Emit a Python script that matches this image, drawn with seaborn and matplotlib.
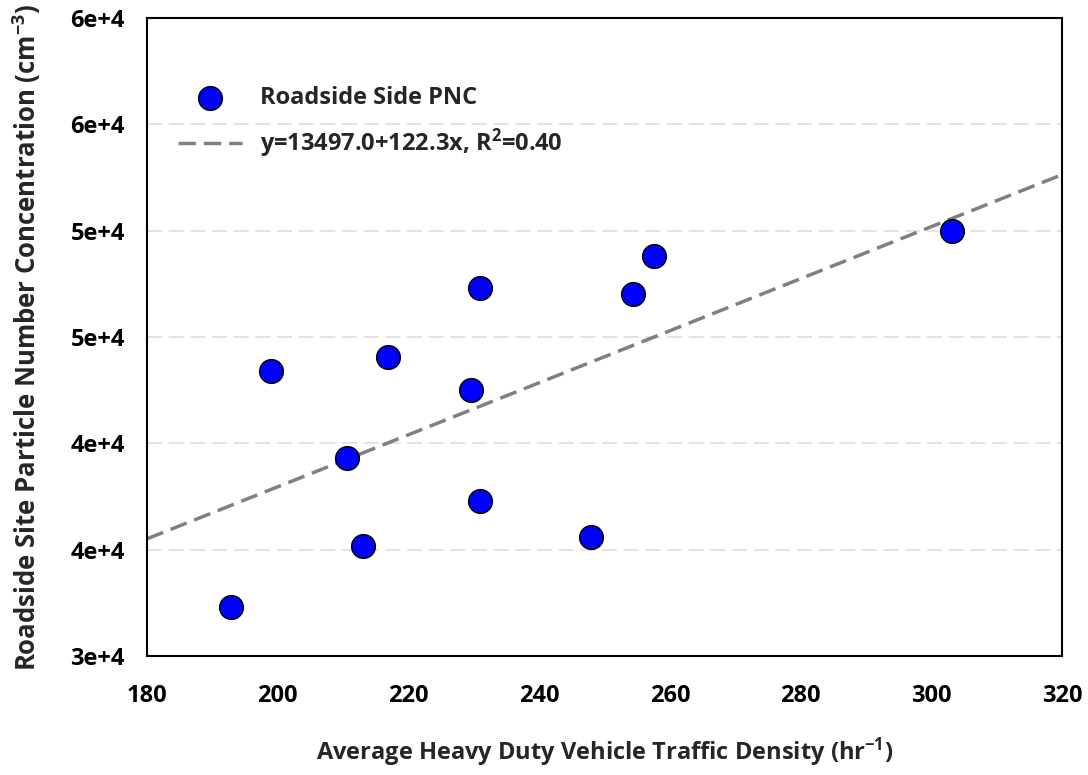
import numpy as np
import pandas as pd
import matplotlib
matplotlib.use("Agg")
import matplotlib.pyplot as plt
import seaborn as sns

# data
hdv_density = [192.8, 199.0, 210.6, 213.0, 216.9, 229.5, 230.9, 230.9, 247.9, 254.3, 257.6, 303.1]
pnc = [32290, 43390, 39310, 35160, 44050, 42490, 47290, 37280, 35600, 47000, 48830, 50000]

fit_intercept = 13497.0
fit_slope = 122.3
fit_label = "y=13497.0+122.3x, R$^{2}$=0.40"
point_label = "Roadside Side PNC"

x_ticks = [180, 200, 220, 240, 260, 280, 300, 320]
y_ticks = [30000, 35000, 40000, 45000, 50000, 55000, 60000]
y_tick_labels = ["3e+4", "4e+4", "4e+4", "5e+4", "5e+4", "6e+4", "6e+4"]

sns.set_style("white")
plt.rcParams["font.family"] = ["Open Sans", "DejaVu Sans"]
plt.rcParams["font.weight"] = "bold"
plt.rcParams["mathtext.fontset"] = "custom"
plt.rcParams["mathtext.rm"] = "Open Sans:bold"
plt.rcParams["mathtext.default"] = "rm"

df = pd.DataFrame({"x": hdv_density, "y": pnc})

fig = plt.figure(figsize=(10.88, 7.75), dpi=100)
ax = fig.add_axes([0.1351, 0.1535, 0.8410, 0.8233])

# horizontal dashed grid
for yv in y_ticks[1:-1]:
    ax.axhline(yv, color="#dedede", lw=1.2, ls=(0, (9, 4)), zorder=0)

xs = np.array([180, 320])
ax.plot(xs, fit_intercept + fit_slope * xs, color="#808080", lw=2.5,
        ls=(0, (5, 2.3)), label=fit_label, zorder=2)

sns.scatterplot(data=df, x="x", y="y", ax=ax, color="#0000ff", edgecolor="black",
                linewidth=1.1, s=290, label=point_label, zorder=3)

ax.set_xlim(180, 320)
ax.set_ylim(30000, 60000)
ax.set_xticks(x_ticks)
ax.set_xticklabels([str(t) for t in x_ticks])
ax.set_yticks(y_ticks)
ax.set_yticklabels(y_tick_labels)
ax.tick_params(axis="both", which="major", direction="out", length=7, width=1.3,
               labelsize=17, colors="black")
ax.tick_params(axis="x", pad=13)
ax.tick_params(axis="y", pad=9)
for lab in ax.get_xticklabels() + ax.get_yticklabels():
    lab.set_fontweight("bold")

for sp in ax.spines.values():
    sp.set_color("black")
    sp.set_linewidth(1.5)

ax.set_xlabel("Average Heavy Duty Vehicle Traffic Density (hr$^{-1}$)",
              fontsize=17, fontweight="bold", labelpad=20)
ax.set_ylabel("Roadside Site Particle Number Concentration (cm$^{-3}$)",
              fontsize=18.5, fontweight="bold", labelpad=20)

handles, labels = ax.get_legend_handles_labels()
order = [labels.index(point_label), labels.index(fit_label)]
ax.legend([handles[i] for i in order], [labels[i] for i in order],
          loc="upper left", bbox_to_anchor=(0.011, 0.926), frameon=False,
          fontsize=17, handlelength=2.7, handletextpad=0.75, labelspacing=0.7,
          markerscale=1.0)

fig.savefig("out.png", dpi=100, facecolor="white")
